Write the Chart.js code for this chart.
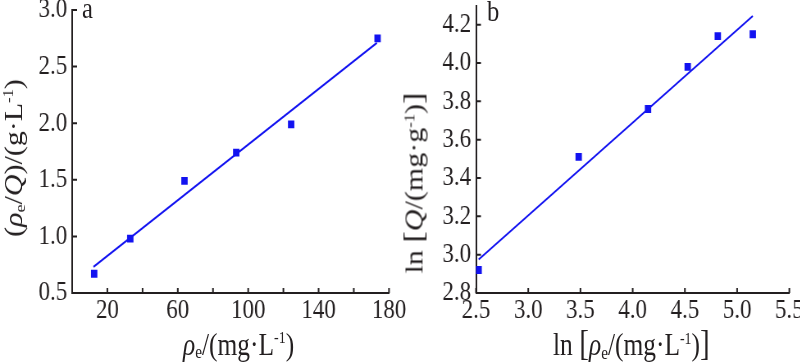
<!DOCTYPE html>
<html><head><meta charset="utf-8">
<script src="https://cdn.jsdelivr.net/npm/chart.js@4"></script>
<style>
html,body{margin:0;padding:0;background:#fff;overflow:hidden;width:800px;height:363px}
#wrap{position:absolute;left:0;top:0;width:1000px;height:363px;transform:scaleX(0.82);transform-origin:0 0}
canvas{position:absolute;top:0}
.t{position:absolute;white-space:nowrap;font-family:"Liberation Serif","Times New Roman",serif;color:#231f20;line-height:1;font-size:30px}
.xt{font-size:31px}
.c{transform:translate(-50%,-50%)}
.r{transform:translate(-50%,-50%) rotate(-90deg)}
.t sub{font-size:0.6em;vertical-align:-0.2em;line-height:0}
.t sup{font-size:0.55em;vertical-align:0.65em;line-height:0}
.br{font-size:1.15em}
</style></head>
<body>
<div id="wrap">
  <canvas id="ca" width="500" height="363" style="left:0;width:500px;height:363px"></canvas>
  <canvas id="cb" width="500" height="363" style="left:488px;width:500px;height:363px"></canvas>
  <div class="t" style="left:100px;top:-7px">a</div>
  <div class="t" style="left:594px;top:-4px">b</div>
  <div class="t xt c" style="left:291px;top:344px"><i>ρ</i><sub>e</sub>/(mg·L<sup>-1</sup>)</div>
  <div class="t xt c" style="left:770px;top:344px">ln <span class="br">[</span><i>ρ</i><sub>e</sub>/(mg·L<sup>-1</sup>)<span class="br">]</span></div>
  <div class="t r" style="left:17px;top:158px">(<i>ρ</i><sub>e</sub>/<i>Q</i>)/(g·L<sup>-1</sup>)</div>
  <div class="t r" style="left:504px;top:183px">ln <span class="br">[</span><i>Q</i>/(mg·g<sup>-1</sup>)<span class="br">]</span></div>
</div>
<script>
// ---- data (panel a) ----
const rhoA   = [12.5, 33, 63.8, 93.2, 124.4, 173.5];
const ratioA = [0.67, 0.98, 1.49, 1.74, 1.99, 2.75];
const fitXA  = [12.1, 173.1];
const fitYA  = [0.73, 2.71];
const xMarksA  = [0, 20, 40, 60, 80, 100, 120, 140, 160, 180];
const xLabelsA = [20, 60, 100, 140, 180];
const yTicksA  = [0.5, 1.0, 1.5, 2.0, 2.5, 3.0];
// ---- data (panel b) ----
const lnRhoB = [2.525, 3.483, 4.147, 4.527, 4.815, 5.15];
const lnQB   = [2.92, 3.51, 3.76, 3.98, 4.14, 4.15];
const fitXB  = [2.525, 5.15];
const fitYB  = [2.975, 4.245];
const xTicksB = [2.5, 3.0, 3.5, 4.0, 4.5, 5.0, 5.5];
const yTicksB = [2.8, 3.0, 3.2, 3.4, 3.6, 3.8, 4.0, 4.2];

const INK = '#231f20';
const BLUE = '#1212f0';
const FONT = '"Liberation Serif", "Times New Roman", serif';

const inTicks = {
  id: 'inTicks',
  afterDraw(chart, args, opts) {
    const {ctx, chartArea: a} = chart;
    const x = chart.scales.x, y = chart.scales.y;
    ctx.save();
    ctx.strokeStyle = INK; ctx.lineWidth = 2;
    ctx.beginPath();
    opts.x.forEach(v => { const p = x.getPixelForValue(v); ctx.moveTo(p, a.bottom); ctx.lineTo(p, a.bottom - 5); });
    opts.y.forEach(v => { const p = y.getPixelForValue(v); ctx.moveTo(a.left, p); ctx.lineTo(a.left + 6, p); });
    ctx.stroke();
    ctx.restore();
  }
};

function pts(xs, ys) { return xs.map((v, i) => ({x: v, y: ys[i]})); }

function makeChart(id, cfg) {
  return new Chart(document.getElementById(id), {
    type: 'scatter',
    data: { datasets: [
      { data: pts(cfg.px, cfg.py), pointStyle: 'rect', pointRadius: 5.5, backgroundColor: BLUE, borderColor: BLUE, borderWidth: 0, showLine: false },
      { data: pts(cfg.lx, cfg.ly), showLine: true, pointRadius: 0, borderColor: BLUE, borderWidth: 2, fill: false }
    ]},
    options: {
      responsive: false, animation: false, devicePixelRatio: 1,
      layout: { padding: { left: 0, right: cfg.padR, top: cfg.padT, bottom: 0 } },
      plugins: { legend: {display: false}, tooltip: {enabled: false}, inTicks: { x: cfg.xMarks, y: cfg.yMarks } },
      scales: {
        x: {
          type: 'linear', min: cfg.xmin, max: cfg.xmax,
          afterBuildTicks: s => { s.ticks = cfg.xMarks.map(v => ({value: v})); },
          ticks: { autoSkip: false, maxRotation: 0, minRotation: 0, padding: 1, color: INK, font: {family: FONT, size: 28},
                   callback: cfg.xLabel },
          grid: { display: false, drawTicks: false },
          border: { display: true, color: INK, width: 2 },
          afterFit: s => { s.height = 70; s.paddingLeft = 0; s.paddingRight = 0; }
        },
        y: {
          type: 'linear', min: cfg.ymin, max: cfg.ymax,
          afterBuildTicks: s => { s.ticks = cfg.yMarks.map(v => ({value: v})); },
          ticks: { autoSkip: false, padding: 6, color: INK, font: {family: FONT, size: 28},
                   callback: v => Number(v).toFixed(1) },
          grid: { display: false, drawTicks: false },
          border: { display: true, color: INK, width: 2 },
          afterFit: s => { s.width = cfg.yw; s.paddingTop = 0; s.paddingBottom = 0; }
        }
      }
    },
    plugins: [inTicks]
  });
}

makeChart('ca', {
  px: rhoA, py: ratioA, lx: fitXA, ly: fitYA,
  xmin: 0, xmax: 180, ymin: 0.5, ymax: 3.0,
  xMarks: xMarksA, yMarks: yTicksA,
  xLabel: v => xLabelsA.includes(v) ? String(v) : '',
  yw: 88, padR: 25.6, padT: 10
});
makeChart('cb', {
  px: lnRhoB, py: lnQB, lx: fitXB, ly: fitYB,
  xmin: 2.5, xmax: 5.5, ymin: 2.8, ymax: 4.3,
  xMarks: xTicksB, yMarks: yTicksB,
  xLabel: v => Number(v).toFixed(1),
  yw: 92.5, padR: 25.4, padT: 2
});
</script>
</body></html>
